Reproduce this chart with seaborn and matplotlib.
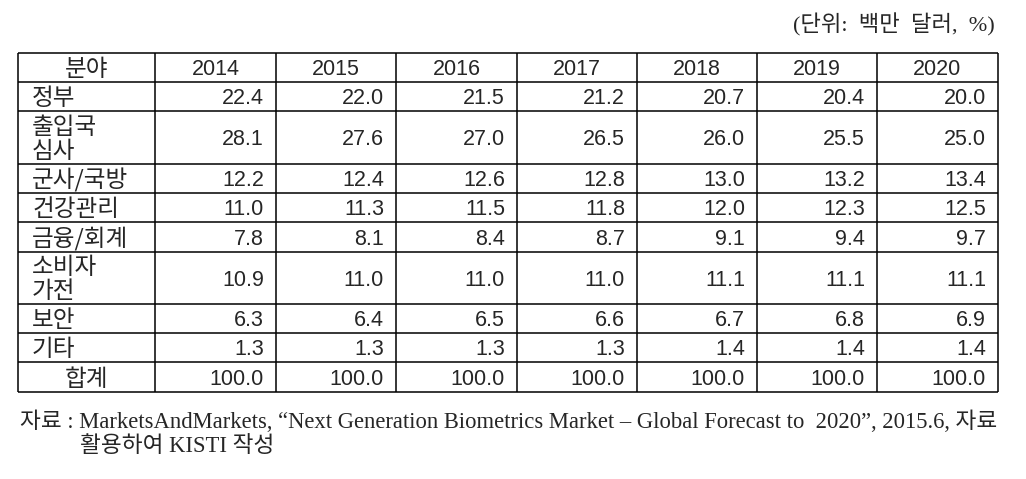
import matplotlib.pyplot as plt
import seaborn as sns

years = ["2014", "2015", "2016", "2017", "2018", "2019", "2020"]
sectors = ["정부", "출입국\n심사", "군사/국방", "건강관리", "금융/회계", "소비자\n가전", "보안", "기타", "합계"]
gov = [22.4, 22.0, 21.5, 21.2, 20.7, 20.4, 20.0]
immigration = [28.1, 27.6, 27.0, 26.5, 26.0, 25.5, 25.0]
defense = [12.2, 12.4, 12.6, 12.8, 13.0, 13.2, 13.4]
health = [11.0, 11.3, 11.5, 11.8, 12.0, 12.3, 12.5]
finance = [7.8, 8.1, 8.4, 8.7, 9.1, 9.4, 9.7]
consumer = [10.9, 11.0, 11.0, 11.0, 11.1, 11.1, 11.1]
security = [6.3, 6.4, 6.5, 6.6, 6.7, 6.8, 6.9]
other = [1.3, 1.3, 1.3, 1.3, 1.4, 1.4, 1.4]
total = [100.0, 100.0, 100.0, 100.0, 100.0, 100.0, 100.0]
rows = [gov, immigration, defense, health, finance, consumer, security, other, total]

unit_text = "(단위:  백만  달러,  %)"
source_1 = "자료 : MarketsAndMarkets, “Next Generation Biometrics Market – Global Forecast to  2020”, 2015.6, 자료"
source_2 = "활용하여 KISTI 작성"

sns.set_theme(style="white")
plt.rcParams["font.family"] = ["Liberation Sans", "Noto Sans CJK KR"]

# table grid in pixel coordinates
col_edges = [18, 155, 276, 396, 517, 637, 757, 877, 998]
row_edges = [53, 82, 111, 164, 193, 222, 252, 304, 333, 362, 392]

fig = plt.figure(figsize=(10.26, 4.79), dpi=100)
ax = fig.add_axes([0, 0, 1, 1])
ax.set_xlim(0, 1026)
ax.set_ylim(479, 0)
ax.axis("off")

lw = 1.1
for x in col_edges:
    ax.plot([x, x], [row_edges[0], row_edges[-1]], color="black", lw=lw, solid_capstyle="butt")
for y in row_edges:
    ax.plot([col_edges[0], col_edges[-1]], [y, y], color="black", lw=lw, solid_capstyle="butt")

num_fs = 15.5
kor_fs = 17
num_off = 7.7   # baseline offset from cell centre, digits
kor_off = 8.5   # baseline offset from cell centre, hangul
kor = "Noto Sans CJK KR"


def label(x, cy, s, ha):
    lines = s.split("\n")
    step = 24
    start = cy - step * (len(lines) - 1) / 2
    for k, line in enumerate(lines):
        ax.text(x, start + k * step + kor_off, line, ha=ha, va="baseline",
                fontsize=kor_fs, family=kor)


hy = (row_edges[0] + row_edges[1]) / 2
label((col_edges[0] + col_edges[1]) / 2, hy, "분야", "center")
for j, yr in enumerate(years):
    ax.text((col_edges[j + 1] + col_edges[j + 2]) / 2, hy + num_off, yr,
            ha="center", va="baseline", fontsize=num_fs)

for i, (name, vals) in enumerate(zip(sectors, rows)):
    cy = (row_edges[i + 1] + row_edges[i + 2]) / 2
    if name == "합계":
        label((col_edges[0] + col_edges[1]) / 2, cy, name, "center")
    else:
        label(32, cy, name, "left")
    for j, v in enumerate(vals):
        ax.text(col_edges[j + 2] - 12, cy + num_off, f"{v:.1f}",
                ha="right", va="baseline", fontsize=num_fs)

serif = ["Liberation Serif", "Noto Sans CJK KR"]
ax.text(995, 25, unit_text, ha="right", va="center", fontsize=16, family=serif)
ax.text(20, 422, source_1, ha="left", va="center", fontsize=16.3, family=serif)
ax.text(80, 447, source_2, ha="left", va="center", fontsize=16.3, family=serif)

fig.savefig("out.png", dpi=100, facecolor="white")
